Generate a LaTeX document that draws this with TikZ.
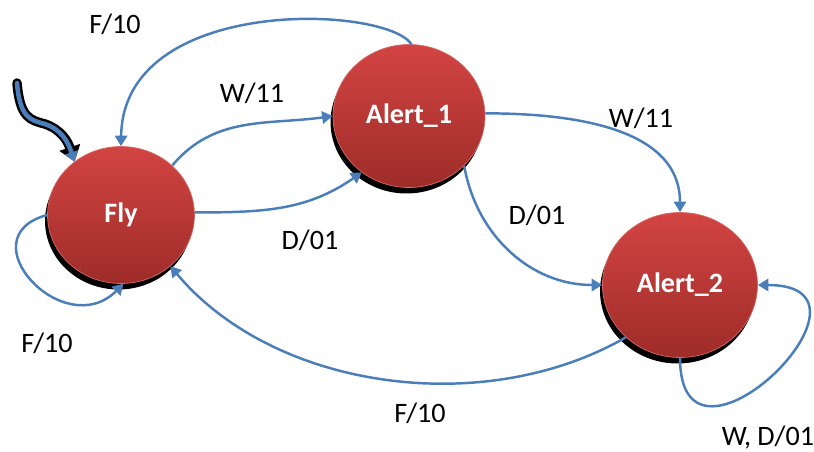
\documentclass[tikz,border=0pt]{standalone}
\usepackage{fontspec}
\setmainfont{Carlito}
\usetikzlibrary{arrows.meta,shadows,shapes.geometric}

\definecolor{edgeblue}{RGB}{74,126,187}
\definecolor{statetop}{RGB}{210,68,66}
\definecolor{statebot}{RGB}{158,44,41}
\definecolor{staterim}{RGB}{214,104,100}

\tikzset{
  state/.style={ellipse,inner sep=0pt,
    top color=statetop,bottom color=statebot,draw=staterim,thin,
    drop shadow={shadow xshift=-0.05cm,shadow yshift=-0.12cm,opacity=1,fill=black},
    text=white,font=\fontsize{16}{18}\selectfont\bfseries},
  trans/.style={edgeblue,line width=1.4pt,-{Triangle[width=7pt,length=6pt]}},
  lbl/.style={font=\fontsize{16}{19}\selectfont,inner sep=0pt}
}

\begin{document}
\begin{tikzpicture}[x=0.02cm,y=-0.02cm]
\useasboundingbox (0,0) rectangle (814,451);

\node[state,minimum width=2.94cm,minimum height=2.74cm] (fly) at (121,215) {Fly};
\node[state,minimum width=3.04cm,minimum height=2.86cm] (alert1) at (409,116) {Alert\_1};
\node[state,minimum width=3.1cm,minimum height=2.9cm] (alert2) at (680,285) {Alert\_2};

% start arrow
\coordinate (start) at (17,83);
\draw[black,line width=5.4pt,line cap=round,-{Triangle[width=12pt,length=8.5pt]}]
  (start) .. controls (20,118) and (30,120) .. (45,124)
  .. controls (62,130) and (68,142) .. (fly.131);
\draw[edgeblue,line width=2.6pt,line cap=round,-{Triangle[width=7.5pt,length=5.5pt]}]
  (start) .. controls (20,118) and (30,120) .. (45,124)
  .. controls (62,130) and (68,142) .. (fly.131);

\draw[trans] (fly.44) to[out=50,in=188] (alert1.180);
\draw[trans] (fly.2) to[out=0,in=215] (alert1.-130);
\draw[trans] (alert1.88) .. controls (385,5) and (123,-5) .. (fly.90);
\draw[trans] (alert1.2) to[out=0,in=90] (alert2.90);
\draw[trans] (alert1.-42) to[out=-80,in=180] (alert2.180);
\draw[trans] (alert2.-136) to[out=-150,in=-50,looseness=0.9] (fly.-46);
\draw[trans] (fly.180) to[out=195,in=-135,looseness=2.1] (fly.-88);
\draw[trans] (alert2.-90) to[out=-90,in=0,looseness=3.4] (alert2.0);

\node[lbl] (l1) at (115,24) {F/10};
\node[lbl] (l2) at (252,93) {W/11};
\node[lbl] (l3) at (310,240) {D/01};
\node[lbl] (l4) at (641,118) {W/11};
\node[lbl] (l5) at (537,215) {D/01};
\node[lbl] (l6) at (420,413) {F/10};
\node[lbl] (l7) at (47,343) {F/10};
\node[lbl] (l8) at (768,438) {W, D/01};
\end{tikzpicture}
\end{document}
